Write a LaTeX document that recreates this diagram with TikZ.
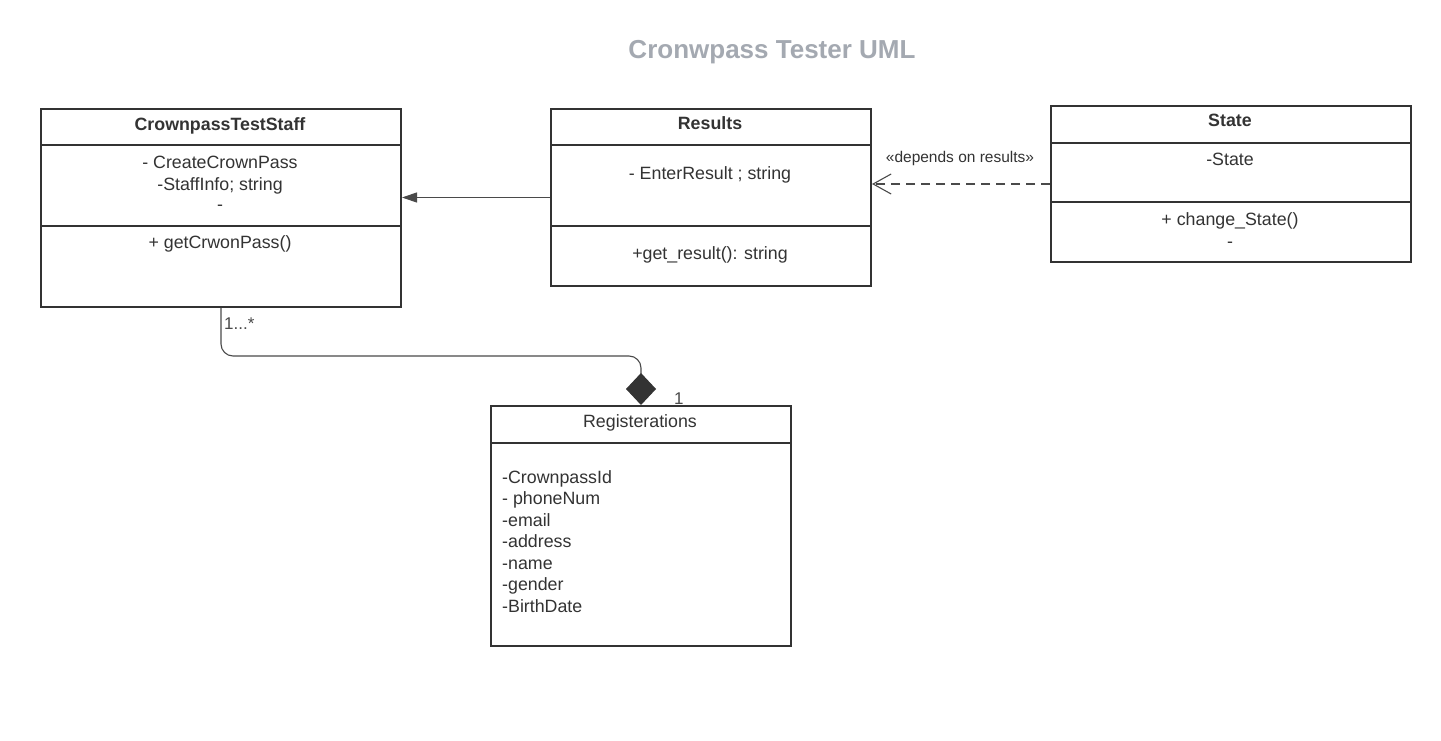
\documentclass[tikz,border=0pt]{standalone}
\usepackage{fontspec}
\setmainfont{Liberation Sans}
\usetikzlibrary{arrows.meta}
\definecolor{ink}{HTML}{333333}
\definecolor{linkc}{HTML}{4A4A4A}
\definecolor{titlec}{HTML}{A4A9B1}
\begin{document}
\begin{tikzpicture}[x=1pt,y=-1pt,
  box/.style={draw=ink,line width=2pt,anchor=north west,inner sep=0pt},
  divline/.style={draw=ink,line width=2pt},
  ttl/.style={anchor=base,inner sep=0pt,text=ink,font=\fontsize{17.8}{20}\selectfont\bfseries},
  txt/.style={anchor=base,inner sep=0pt,text=ink,font=\fontsize{17.8}{20}\selectfont},
  ltxt/.style={anchor=base west,inner sep=0pt,text=ink,font=\fontsize{17.8}{20}\selectfont},
  lbl/.style={anchor=base,inner sep=0pt,text=ink,font=\fontsize{15.5}{18}\selectfont},
  mult/.style={anchor=base west,inner sep=0pt,text=linkc,font=\fontsize{17}{20}\selectfont},
  conn/.style={draw=linkc,line width=1.1pt}
]
\useasboundingbox (0,0) rectangle (1441,741);
\fill[white] (0,0) rectangle (1441,741);

% title
\node[anchor=base,inner sep=0pt,text=titlec,font=\fontsize{26}{30}\selectfont\bfseries] (title) at (772,59) {Cronwpass Tester UML};

% CrownpassTestStaff
\node[box,minimum width=360pt,minimum height=198pt] (staff) at (40,108) {};
\draw[divline] (40,145) -- (400,145);
\draw[divline] (40,226) -- (400,226);
\node[ttl] (staffT) at (220,131) {CrownpassTestStaff};
\node[txt] (staffA1) at (220,168) {- CreateCrownPass};
\node[txt] (staffA2) at (220,190) {-StaffInfo; string};
\node[txt] (staffA3) at (220,211) {-};
\node[txt] (staffM1) at (220,248) {+ getCrwonPass()};

% Results
\node[box,minimum width=320pt,minimum height=177pt] (results) at (550,108) {};
\draw[divline] (550,145) -- (870,145);
\draw[divline] (550,226) -- (870,226);
\node[ttl] (resT) at (710,130) {Results};
\node[txt] (resA1) at (710,179) {- EnterResult ; string};
\node[txt] (resM1) at (710,259) {+get\_result(): string};

% State
\node[box,minimum width=360pt,minimum height=156pt] (state) at (1050,105) {};
\draw[divline] (1050,143) -- (1410,143);
\draw[divline] (1050,202) -- (1410,202);
\node[ttl] (stateT) at (1230,127) {State};
\node[txt] (stateA1) at (1230,165) {-State};
\node[txt] (stateM1) at (1230,225) {+ change\_State()};
\node[txt] (stateM2) at (1230,247) {-};

% Registerations
\node[box,minimum width=300pt,minimum height=240pt] (reg) at (490,405) {};
\draw[divline] (490,443) -- (790,443);
\node[txt] (regT) at (640,427) {Registerations};
\node[ltxt] (r1) at (502,483) {-CrownpassId};
\node[ltxt] (r2) at (502,504.5) {- phoneNum};
\node[ltxt] (r3) at (502,526) {-email};
\node[ltxt] (r4) at (502,547.5) {-address};
\node[ltxt] (r5) at (502,569) {-name};
\node[ltxt] (r6) at (502,590.5) {-gender};
\node[ltxt] (r7) at (502,612) {-BirthDate};

% Results -> Staff
\draw[conn,-{Triangle[length=15pt,width=10pt]}] (results.west) -- (results.west -| staff.east);

% State -> Results (dependency)
\draw[conn,dash pattern=on 9pt off 6pt,-{Straight Barb[length=18pt,width=20pt,line width=1.1pt]}] (state.west) -- (state.west -| results.east);
\node[lbl] (dep) at (960,163) {«depends on results»};

% Staff -- Registerations (composition)
\draw[conn,rounded corners=12pt,-{Diamond[length=32pt,width=30pt,fill=ink,color=ink]}] (staff.south) -- ++(0,48) -| (reg.north);
\node[mult] (m1) at (224,329) {1...*};
\node[mult] (m2) at (674,404) {1};
\end{tikzpicture}
\end{document}
